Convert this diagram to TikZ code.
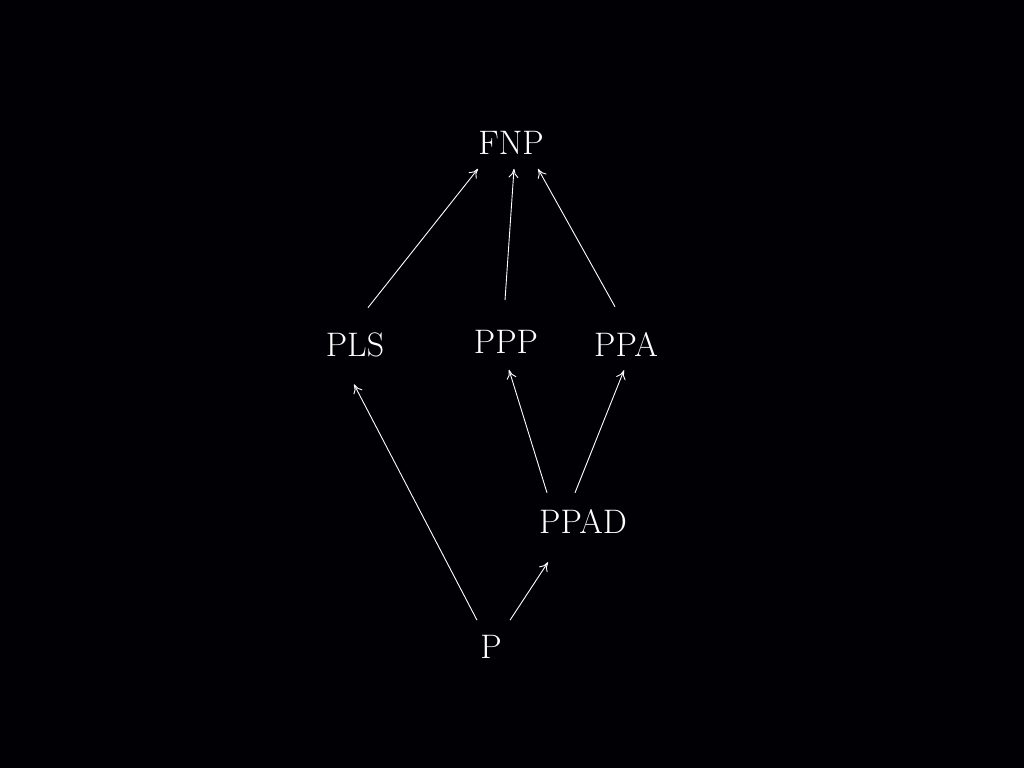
\documentclass[tikz,border=0pt]{standalone}
\usetikzlibrary{arrows.meta}
\begin{document}
\begin{tikzpicture}[x=1pt,y=-1pt,
  cls/.style={text=white,inner sep=10pt,font=\fontsize{34}{36}\selectfont},
  arr/.style={draw=white,line width=0.9pt,-{To[length=9pt,width=10pt]}}]
\fill[black!98!blue] (0,0) rectangle (1024,768);
\useasboundingbox (0,0) rectangle (1024,768);
\node[cls] (fnp) at (511,143) {FNP};
\node[cls] (pls) at (355,345) {PLS};
\node[cls] (ppp) at (506,342) {PPP};
\node[cls] (ppa) at (626,344) {PPA};
\node[cls] (ppad) at (583,521) {PPAD};
\node[cls] (p) at (491,647) {P};
\draw[arr] ([xshift=13,yshift=15]pls.north) -- ([xshift=-33,yshift=-4]fnp.south);
\draw[arr] ([xshift=-1,yshift=20]ppp.north) -- ([xshift=3,yshift=-4]fnp.south);
\draw[arr] ([xshift=-11,yshift=15]ppa.north) -- ([xshift=27,yshift=-4]fnp.south);
\draw[arr] ([xshift=-14,yshift=5]p.north) -- ([xshift=-1,yshift=-17]pls.south);
\draw[arr] ([xshift=19,yshift=5]p.north) -- ([xshift=-35,yshift=-19]ppad.south);
\draw[arr] ([xshift=-36,yshift=6]ppad.north) -- ([xshift=3,yshift=-6]ppp.south);
\draw[arr] ([xshift=-8,yshift=6]ppad.north) -- ([xshift=-2,yshift=-4]ppa.south);
\end{tikzpicture}
\end{document}
